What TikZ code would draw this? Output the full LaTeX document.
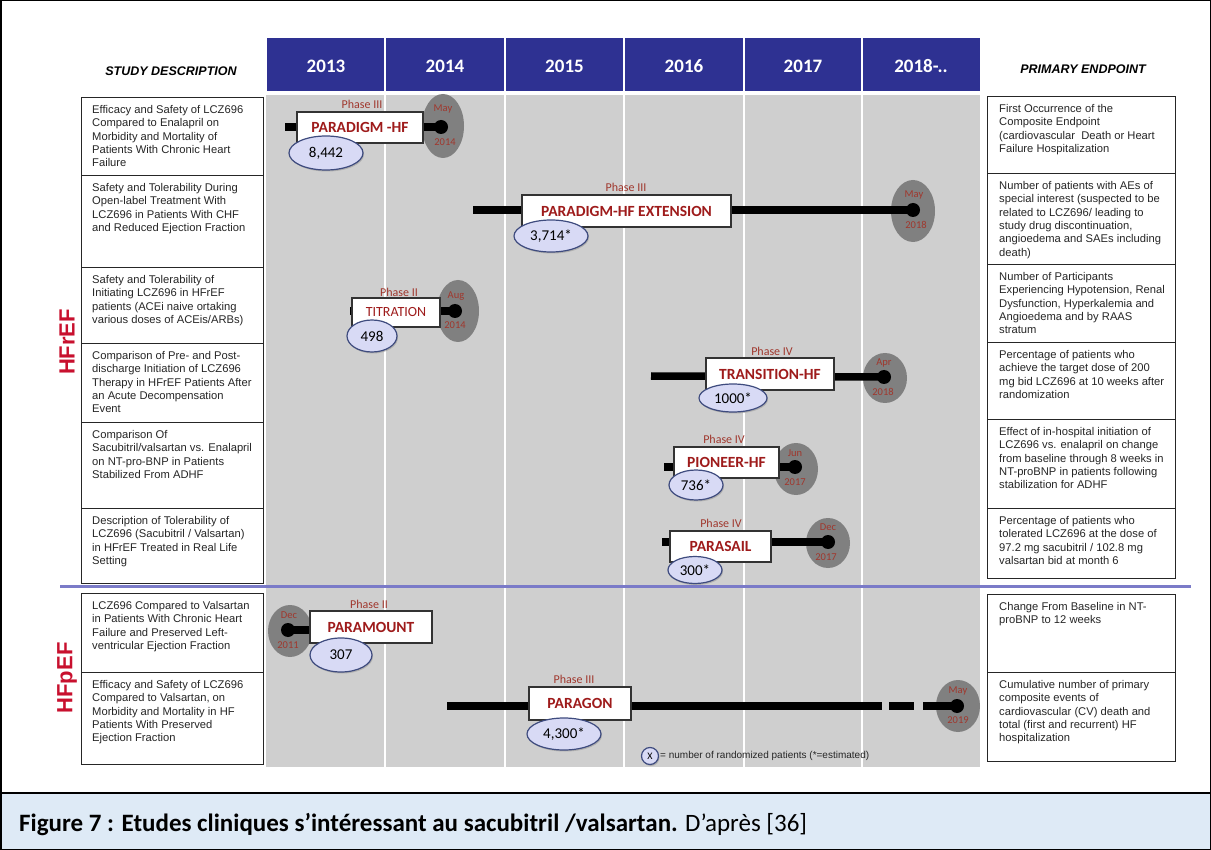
\documentclass[tikz,border=0pt]{standalone}
\usepackage{fontspec}
\setmainfont{Liberation Sans}
\newfontfamily\carl{Carlito}
\usetikzlibrary{shapes.geometric,shadows}
\definecolor{headblue}{HTML}{2E3192}
\definecolor{gridgray}{HTML}{CFCFCF}
\definecolor{sepline}{HTML}{7B7BC8}
\definecolor{trialred}{HTML}{9E1B1B}
\definecolor{phasered}{HTML}{A0372D}
\definecolor{dategray}{HTML}{808080}
\definecolor{numfill}{HTML}{D8DAF5}
\definecolor{numdraw}{HTML}{3E4B7E}
\definecolor{hfred}{HTML}{C8102E}
\definecolor{capfill}{HTML}{DEEAF6}
\begin{document}
\begin{tikzpicture}[x=1pt,y=-1pt,
  descbox/.style={draw=black!85, line width=1pt, anchor=north west, inner sep=0pt},
  desctext/.style={anchor=north west, inner sep=0pt, align=left, font=\fontsize{11.2}{13.4}\selectfont, text=black!85},
  yeartxt/.style={text=white, font=\carl\bfseries\fontsize{19}{20}\selectfont},
  headtxt/.style={font=\bfseries\itshape\fontsize{12.5}{14}\selectfont},
  hftxt/.style={rotate=90, text=hfred, font=\bfseries\fontsize{22}{22}\selectfont},
  dateell/.style={ellipse, fill=dategray, draw=none, inner sep=0pt},
  datetxt/.style={text=phasered, font=\carl\fontsize{10.5}{10.5}\selectfont, inner sep=0pt},
  phasetxt/.style={text=phasered, font=\carl\fontsize{12}{12}\selectfont, inner sep=0pt},
  bar/.style={line width=7.5pt, black},
  dotnode/.style={circle, fill=black, minimum size=14pt, inner sep=0pt},
  trialbox/.style={rectangle, draw=black!80, line width=1.2pt, fill=white, text=trialred, inner sep=0pt,
     font=\carl\bfseries\fontsize{15.5}{16}\selectfont,
     drop shadow={shadow xshift=1.2pt, shadow yshift=-1.2pt, fill=black!45, opacity=0.6}},
  numell/.style={ellipse, fill=numfill, draw=numdraw, line width=1.2pt, inner sep=0pt,
     font=\carl\fontsize{15}{15}\selectfont,
     drop shadow={shadow xshift=1pt, shadow yshift=-1.5pt, fill=black!40, opacity=0.6}}
]
\useasboundingbox (0,0) rectangle (1211,850);
\fill[white] (0,0) rectangle (1211,850);

% timeline background
\fill[gridgray] (266,95) rectangle (980,767);
\fill[headblue] (267,38) rectangle (980,91);
\foreach \xx in {385,505,624,744,862}{
  \draw[white, line width=1.8pt] (\xx,38) -- (\xx,767);
}
\node[yeartxt] (y13) at (326,66) {2013};
\node[yeartxt] (y14) at (445,66) {2014};
\node[yeartxt] (y15) at (564.5,66) {2015};
\node[yeartxt] (y16) at (684,66) {2016};
\node[yeartxt] (y17) at (803,66) {2017};
\node[yeartxt] (y18) at (921,66) {2018-..};

% column headers
\node[headtxt] (hd1) at (171,71) {STUDY DESCRIPTION};
\node[headtxt] (hd2) at (1083,69) {PRIMARY ENDPOINT};

% left description boxes
\node[descbox, minimum width=182pt, minimum height=78pt] (l1) at (81,97) {};
\node[descbox, minimum width=182pt, minimum height=92pt] (l2) at (81,175) {};
\node[descbox, minimum width=182pt, minimum height=76pt] (l3) at (81,267) {};
\node[descbox, minimum width=182pt, minimum height=79pt] (l4) at (81,343) {};
\node[descbox, minimum width=182pt, minimum height=86pt] (l5) at (81,422) {};
\node[descbox, minimum width=182pt, minimum height=75pt] (l6) at (81,508) {};
\node[descbox, minimum width=182pt, minimum height=79pt] (l7) at (81,593) {};
\node[descbox, minimum width=182pt, minimum height=92pt] (l8) at (81,672) {};

\node[desctext] (lt1) at ([xshift=11pt,yshift=-8pt]l1.north west) {Efficacy and Safety of LCZ696\\Compared to Enalapril on\\Morbidity and Mortality of\\Patients With Chronic Heart\\Failure};
\node[desctext] (lt2) at ([xshift=11pt,yshift=-8pt]l2.north west) {Safety and Tolerability During\\Open-label Treatment With\\LCZ696 in Patients With CHF\\and Reduced Ejection Fraction};
\node[desctext] (lt3) at ([xshift=11pt,yshift=-8pt]l3.north west) {Safety and Tolerability of\\Initiating LCZ696 in HFrEF\\patients (ACEi naive ortaking\\various doses of ACEis/ARBs)};
\node[desctext] (lt4) at ([xshift=11pt,yshift=-8pt]l4.north west) {Comparison of Pre- and Post-\\discharge Initiation of LCZ696\\Therapy in HFrEF Patients After\\an Acute Decompensation\\Event};
\node[desctext] (lt5) at ([xshift=11pt,yshift=-8pt]l5.north west) {Comparison Of\\Sacubitril/valsartan vs. Enalapril\\on NT-pro-BNP in Patients\\Stabilized From ADHF};
\node[desctext] (lt6) at ([xshift=11pt,yshift=-8pt]l6.north west) {Description of Tolerability of\\LCZ696 (Sacubitril / Valsartan)\\in HFrEF Treated in Real Life\\Setting};
\node[desctext] (lt7) at ([xshift=11pt,yshift=-8pt]l7.north west) {LCZ696 Compared to Valsartan\\in Patients With Chronic Heart\\Failure and Preserved Left-\\ventricular Ejection Fraction};
\node[desctext] (lt8) at ([xshift=11pt,yshift=-8pt]l8.north west) {Efficacy and Safety of LCZ696\\Compared to Valsartan, on\\Morbidity and Mortality in HF\\Patients With Preserved\\Ejection Fraction};

% right endpoint boxes
\node[descbox, minimum width=188pt, minimum height=77pt] (r1) at (987,96) {};
\node[descbox, minimum width=188pt, minimum height=91pt] (r2) at (987,173) {};
\node[descbox, minimum width=188pt, minimum height=78pt] (r3) at (987,264) {};
\node[descbox, minimum width=188pt, minimum height=77pt] (r4) at (987,342) {};
\node[descbox, minimum width=188pt, minimum height=89pt] (r5) at (987,419) {};
\node[descbox, minimum width=188pt, minimum height=70pt] (r6) at (987,508) {};
\node[descbox, minimum width=188pt, minimum height=78pt] (r7) at (987,594) {};
\node[descbox, minimum width=188pt, minimum height=89pt] (r8) at (987,672) {};

\node[desctext] (rt1) at ([xshift=12pt,yshift=-8pt]r1.north west) {First Occurrence of the\\Composite Endpoint\\(cardiovascular\ \ Death or Heart\\Failure Hospitalization};
\node[desctext] (rt2) at ([xshift=12pt,yshift=-8pt]r2.north west) {Number of patients with AEs of\\special interest (suspected to be\\related to LCZ696/ leading to\\study drug discontinuation,\\angioedema and SAEs including\\death)};
\node[desctext] (rt3) at ([xshift=12pt,yshift=-8pt]r3.north west) {Number of Participants\\Experiencing Hypotension, Renal\\Dysfunction, Hyperkalemia and\\Angioedema and by RAAS\\stratum};
\node[desctext] (rt4) at ([xshift=12pt,yshift=-8pt]r4.north west) {Percentage of patients who\\achieve the target dose of 200\\mg bid LCZ696 at 10 weeks after\\randomization};
\node[desctext] (rt5) at ([xshift=12pt,yshift=-8pt]r5.north west) {Effect of in-hospital initiation of\\LCZ696 vs. enalapril on change\\from baseline through 8 weeks in\\NT-proBNP in patients following\\stabilization for ADHF};
\node[desctext] (rt6) at ([xshift=12pt,yshift=-8pt]r6.north west) {Percentage of patients who\\tolerated LCZ696 at the dose of\\97.2 mg sacubitril / 102.8 mg\\valsartan bid at month 6};
\node[desctext] (rt7) at ([xshift=12pt,yshift=-8pt]r7.north west) {Change From Baseline in NT-\\proBNP to 12 weeks};
\node[desctext] (rt8) at ([xshift=12pt,yshift=-8pt]r8.north west) {Cumulative number of primary\\composite events of\\cardiovascular (CV) death and\\total (first and recurrent) HF\\hospitalization};

% group labels and separator
\node[hftxt] (hfr) at (67,342) {HFrEF};
\node[hftxt] (hfp) at (67,678) {HFpEF};
\draw[sepline, line width=3pt] (60,586) -- (1191,586);

% ---------- PARADIGM-HF ----------
\node[dateell, minimum width=42pt, minimum height=64pt] (e1) at (443,126) {};
\coordinate (s1) at (285,127);
\coordinate (p1) at (441,127);
\draw[bar] (s1) -- (p1);
\node[trialbox, minimum width=126pt, minimum height=31pt] (b1) at (360,127.5) {PARADIGM -HF};
\node[dotnode] (d1) at (p1) {};
\node[datetxt] (m1) at (443,109) {May};
\node[datetxt] (yr1) at (445,142) {2014};
\node[phasetxt] (ph1) at (362,104) {Phase III};
\node[numell, minimum width=74pt, minimum height=34pt] (n1) at (326,153) {8,442};

% ---------- PARADIGM-HF EXTENSION ----------
\node[dateell, minimum width=44pt, minimum height=62pt] (e2) at (913,211) {};
\coordinate (s2) at (473,210);
\coordinate (p2) at (913,210);
\draw[bar] (s2) -- (p2);
\node[trialbox, minimum width=209pt, minimum height=32pt] (b2) at (626.5,211) {PARADIGM-HF EXTENSION};
\node[dotnode] (d2) at (p2) {};
\node[datetxt] (m2) at (914,195) {May};
\node[datetxt] (yr2) at (916,225) {2018};
\node[phasetxt] (ph2) at (626,187) {Phase III};
\node[numell, minimum width=74pt, minimum height=32pt] (n2) at (551,236) {3,714*};

% ---------- TITRATION ----------
\node[dateell, minimum width=42pt, minimum height=62pt] (e3) at (458,311) {};
\coordinate (s3) at (350,311);
\coordinate (p3) at (455,311);
\draw[bar] (s3) -- (p3);
\node[trialbox, minimum width=88pt, minimum height=29pt, font=\carl\fontsize{14}{14}\selectfont] (b3) at (396,312.5) {TITRATION};
\node[dotnode] (d3) at (p3) {};
\node[datetxt] (m3) at (456,296) {Aug};
\node[datetxt] (yr3) at (455,325) {2014};
\node[phasetxt] (ph3) at (399,292) {Phase II};
\node[numell, minimum width=50pt, minimum height=32pt] (n3) at (372,336) {498};

% ---------- TRANSITION-HF ----------
\node[dateell, minimum width=44pt, minimum height=50pt] (e4) at (885,378) {};
\coordinate (s4) at (651,376);
\coordinate (p4) at (884,377);
\draw[bar] (s4) -- (p4);
\node[trialbox, minimum width=128pt, minimum height=32pt] (b4) at (770,374) {TRANSITION-HF};
\node[dotnode] (d4) at (p4) {};
\node[datetxt] (m4) at (884,363) {Apr};
\node[datetxt] (yr4) at (883,392) {2018};
\node[phasetxt] (ph4) at (772,351) {Phase IV};
\node[numell, minimum width=68pt, minimum height=28pt] (n4) at (733,398) {1000*};

% ---------- PIONEER-HF ----------
\node[dateell, minimum width=44pt, minimum height=52pt] (e5) at (796,469) {};
\coordinate (s5) at (664,467);
\coordinate (p5) at (795,467);
\draw[bar] (s5) -- (p5);
\node[trialbox, minimum width=105pt, minimum height=31pt] (b5) at (726.5,462.5) {PIONEER-HF};
\node[dotnode] (d5) at (p5) {};
\node[datetxt] (m5) at (795,453) {Jun};
\node[datetxt] (yr5) at (795,482) {2017};
\node[phasetxt] (ph5) at (724,439) {Phase IV};
\node[numell, minimum width=54pt, minimum height=30pt] (n5) at (696,485) {736*};

% ---------- PARASAIL ----------
\node[dateell, minimum width=44pt, minimum height=50pt] (e6) at (828,543) {};
\coordinate (s6) at (662,542);
\coordinate (p6) at (828,542);
\draw[bar] (s6) -- (p6);
\node[trialbox, minimum width=101pt, minimum height=31pt] (b6) at (720.5,546.5) {PARASAIL};
\node[dotnode] (d6) at (p6) {};
\node[datetxt] (m6) at (828,527) {Dec};
\node[datetxt] (yr6) at (826,557) {2017};
\node[phasetxt] (ph6) at (721,523) {Phase IV};
\node[numell, minimum width=54pt, minimum height=27pt] (n6) at (695,570) {300*};

% ---------- PARAMOUNT ----------
\node[dateell, minimum width=44pt, minimum height=52pt] (e7) at (290,631) {};
\coordinate (p7) at (288,630);
\coordinate (s7) at (320,630);
\draw[bar] (p7) -- (s7);
\node[trialbox, minimum width=122pt, minimum height=32pt] (b7) at (371,627) {PARAMOUNT};
\node[dotnode] (d7) at (p7) {};
\node[datetxt] (m7) at (289,615) {Dec};
\node[datetxt] (yr7) at (288,645) {2011};
\node[phasetxt] (ph7) at (369,604) {Phase II};
\node[numell, minimum width=62pt, minimum height=34pt] (n7) at (341,655) {307};

% ---------- PARAGON ----------
\node[dateell, minimum width=44pt, minimum height=52pt] (e8) at (958,706) {};
\coordinate (s8) at (447,706);
\coordinate (g8a) at (882,706);
\coordinate (g8b) at (889,706);
\coordinate (g8c) at (914,706);
\coordinate (g8d) at (923,706);
\coordinate (p8) at (957,706);
\draw[bar] (s8) -- (g8a);
\draw[bar] (g8b) -- (g8c);
\draw[bar] (g8d) -- (p8);
\node[trialbox, minimum width=102pt, minimum height=33pt] (b8) at (580,703.5) {PARAGON};
\node[dotnode] (d8) at (p8) {};
\node[datetxt] (m8) at (958,691) {May};
\node[datetxt] (yr8) at (958,720) {2019};
\node[phasetxt] (ph8) at (574,679) {Phase III};
\node[numell, minimum width=74pt, minimum height=32pt] (n8) at (564,734) {4,300*};

% legend
\node[numell, minimum width=17pt, minimum height=17pt, font=\carl\fontsize{10}{10}\selectfont, drop shadow={opacity=0}] (lx) at (650,756) {X};
\node[anchor=west, inner sep=0pt, font=\fontsize{10}{10}\selectfont, text=black!85] (lt) at (660,756) {= number of randomized patients (*=estimated)};

% caption
\fill[capfill] (1.5,793) rectangle (1209.5,848.5);
\draw[line width=1.5pt] (0,793) -- (1211,793);
\node[anchor=base west, inner sep=0pt, font=\carl\fontsize{25}{27}\selectfont] (cap) at (19,831) {\textbf{Figure 7 : Etudes cliniques s’intéressant au sacubitril /valsartan.} D’après [36]};

% outer frame
\draw[line width=1.5pt] (0.75,0.75) rectangle (1210.25,849.25);
\end{tikzpicture}
\end{document}
